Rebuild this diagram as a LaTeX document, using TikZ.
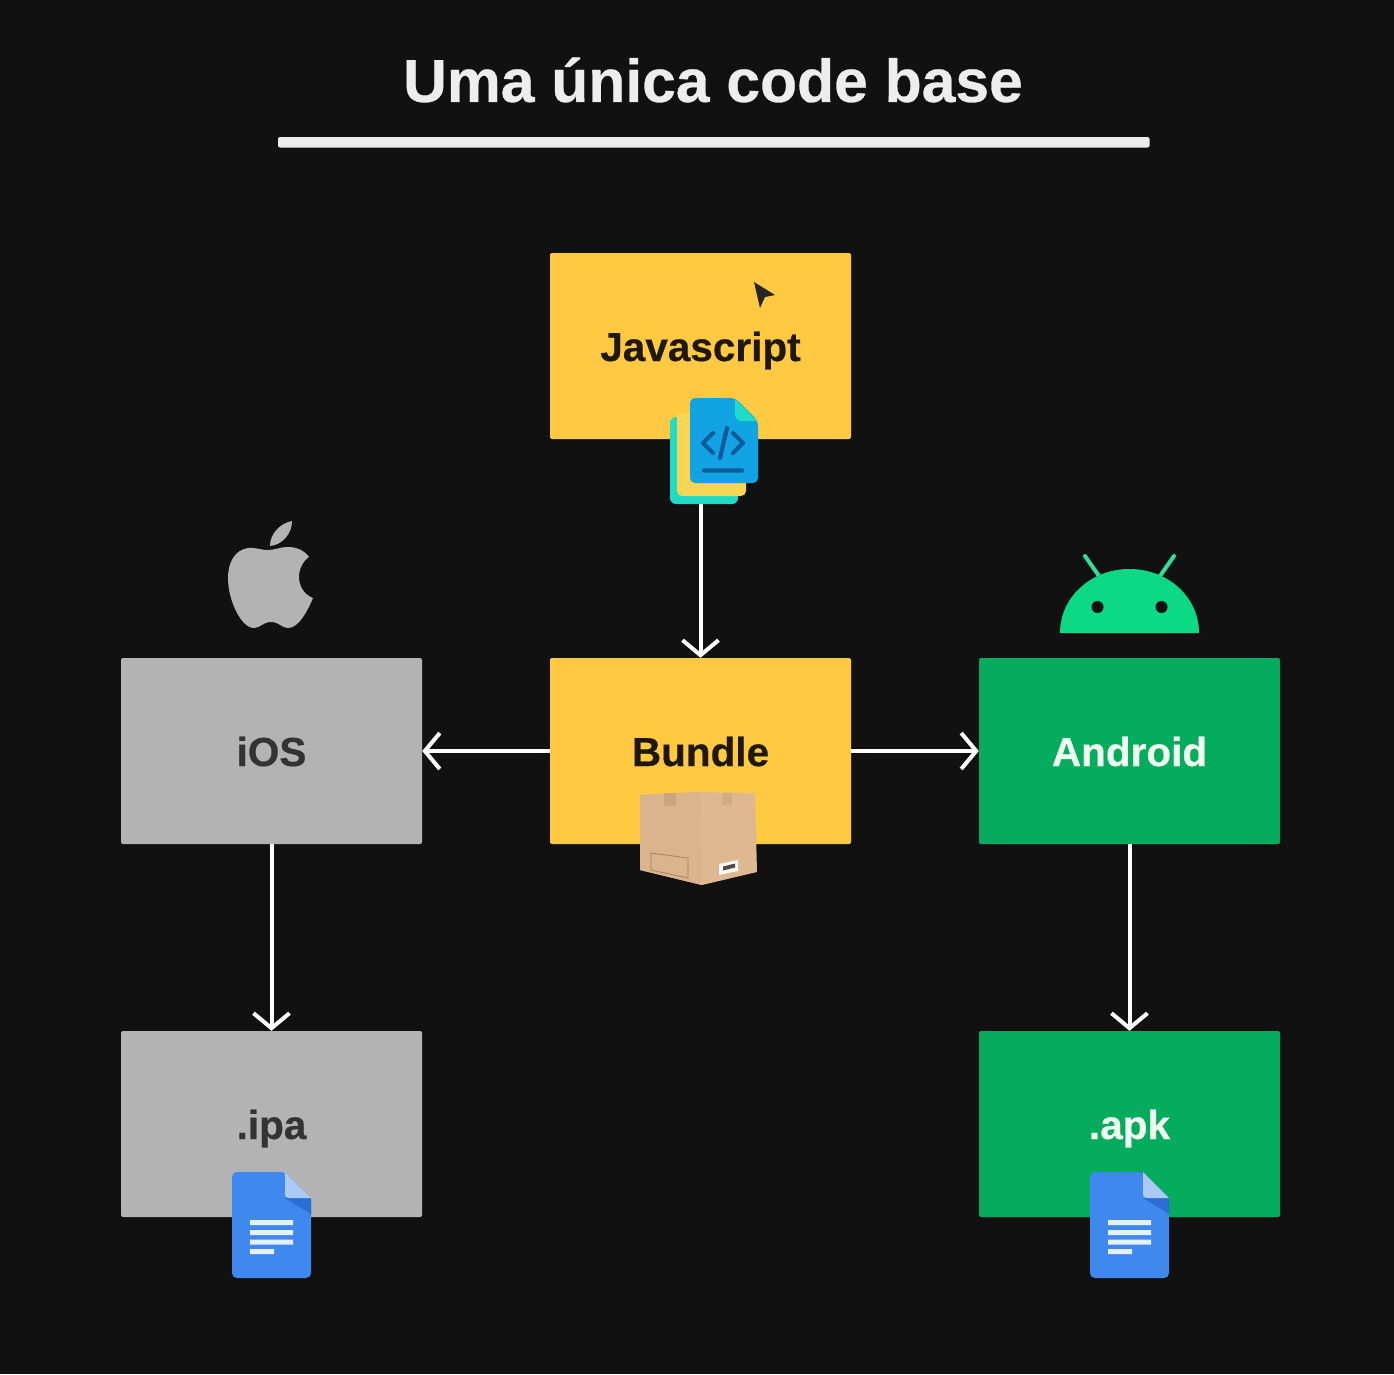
\documentclass[tikz,border=0pt]{standalone}
\usepackage{fontspec}
\setmainfont{Liberation Sans}[BoldFeatures={FakeBold=0.5}]
\usetikzlibrary{arrows.meta}
\definecolor{bgc}{HTML}{121112}
\definecolor{rulec}{HTML}{EDEDED}
\definecolor{yel}{HTML}{FFCA42}
\definecolor{gry}{HTML}{B3B3B3}
\definecolor{grn}{HTML}{06AC5E}
\definecolor{droid}{HTML}{0DD883}
\definecolor{docb}{HTML}{3E88EE}
\definecolor{docl}{HTML}{ABCBF6}
\definecolor{docd}{HTML}{2C6CD6}
\definecolor{docw}{HTML}{E6F1FF}
\definecolor{codeb}{HTML}{11A3E4}
\definecolor{coded}{HTML}{0E5C97}
\definecolor{codec}{HTML}{1FDCC6}
\definecolor{codey}{HTML}{F8D552}
\definecolor{boxl}{HTML}{D9B48C}
\definecolor{boxr}{HTML}{DDB890}
\definecolor{boxt}{HTML}{C9A47C}
\tikzset{
  box/.style={minimum width=301pt,minimum height=186pt,inner sep=0pt,rounded corners=2pt,text height=30pt,text depth=0pt,font=\bfseries\fontsize{40.5}{46}\selectfont},
  yelbox/.style={box,fill=yel,text=yel!12!black},
  grybox/.style={box,fill=gry,text=black!80},
  grnbox/.style={box,fill=grn,text=green!6!white},
  conn/.style={draw=white,line width=4pt,-{Straight Barb[length=15pt,width=36pt,line width=4pt]}},
  docicon/.pic={
    \fill[docb,rounded corners=5pt] (-39,-54) -- (14,-54) -- (40,-28) -- (40,52) -- (-39,52) -- cycle;
    \fill[docd] (14,-28) -- (40,-28) -- (40,-12) -- cycle;
    \fill[docl] (14,-54) -- (40,-28) -- (18,-28) .. controls (15,-28) and (14,-29) .. (14,-32) -- cycle;
    \fill[docw] (-21,-6) rectangle (22,-1) (-21,4) rectangle (22,9) (-21,13.5) rectangle (22,18.5) (-21,23) rectangle (3,28);
  }
}
\begin{document}
\begin{tikzpicture}[x=1pt,y=-1pt]
\useasboundingbox (0,0) rectangle (1394,1374);
\fill[bgc] (0,0) rectangle (1394,1374);
\node[text=rulec,font=\bfseries\fontsize{60.6}{70}\selectfont,inner sep=0pt] (title) at (713,80) {Uma única code base};
\fill[rulec,rounded corners=2pt] (278,137) rectangle (1149.5,147.5);

\node[yelbox] (js) at (700.5,346) {Javascript};
\node[yelbox] (bundle) at (700.5,751) {Bundle};
\node[grybox] (ios) at (271.5,751) {iOS};
\node[grnbox] (android) at (1129.5,751) {Android};
\node[grybox] (ipa) at (271.5,1124) {.ipa};
\node[grnbox] (apk) at (1129.5,1124) {.apk};

\draw[conn] (js.south) -- (bundle.north);
\draw[conn] (bundle.west) -- (ios.east);
\draw[conn] (bundle.east) -- (android.west);
\draw[conn] (ios.south) -- (ipa.north);
\draw[conn] (android.south) -- (apk.north);

% cursor
\fill[black!85] (754,282) -- (775,295) -- (765,297) -- (760,308) -- cycle;

% code files icon
\fill[codec,rounded corners=6pt] (670,417) rectangle (738,504);
\fill[codey,rounded corners=5pt] (677,413) rectangle (746,496);
\fill[codeb,rounded corners=5pt] (690,398) -- (735,398) -- (758,421) -- (758,483) -- (690,483) -- cycle;
\fill[codec] (735,399) -- (757,421) -- (742,421) .. controls (737,421) and (735,418) .. (735,414) -- cycle;
\draw[coded,line width=4.2pt,line cap=round,line join=round]
  (713,433) -- (703,443) -- (713,453)
  (733,433) -- (743,443) -- (733,453)
  (727,428) -- (720,458)
  (704,470.5) -- (742,470.5);

% apple
\fill[gry] (268,550) .. controls (260,550) and (255,547) .. (248,548)
  .. controls (235,550) and (228,562) .. (228,578)
  .. controls (228,600) and (241,628) .. (254,628)
  .. controls (260,628) and (263,622) .. (271,622)
  .. controls (279,622) and (282,628) .. (288,628)
  .. controls (299,628) and (308,610) .. (313,598)
  .. controls (303,594) and (299,585) .. (299,577)
  .. controls (299,569) and (303,561) .. (309,557)
  .. controls (304,550) and (296,547) .. (288,547)
  .. controls (280,547) and (275,550) .. (268,550) -- cycle;
\fill[gry] (270,546) .. controls (270,533) and (281,523) .. (292,521)
  .. controls (292,534) and (282,545) .. (270,546) -- cycle;

% android
\draw[droid!85!white,line width=4pt,line cap=round] (1099,576) -- (1085,556) (1160,576) -- (1174,556);
\fill[droid] (1060,633) .. controls (1060,597) and (1091,569) .. (1129.5,569)
  .. controls (1168,569) and (1199,597) .. (1199,633) -- cycle;
\fill[bgc] (1097.5,607) circle (6) (1161.5,607) circle (6);

% parcel
\fill[boxr] (640,795) -- (700,792) -- (755,793) -- (757,872) -- (702,885) -- (640,870) -- cycle;
\fill[boxl] (640,795) -- (700,792) -- (702,885) -- (640,870) -- cycle;
\fill[boxt] (664,793) rectangle (676,806);
\fill[boxt!60!boxr] (722,793) rectangle (732,805);
\draw[boxt!80!black,line width=.8pt] (651,853) -- (688,858) -- (688,878) -- (651,870) -- cycle;
\fill[white!92!boxt] (719,864) -- (738,860) -- (738,871) -- (719,875) -- cycle;
\fill[black!70] (723,866.5) -- (735,863.5) -- (735,867.5) -- (723,870.5) -- cycle;

% document icons
\pic at (271,1226) {docicon};
\pic at (1129,1226) {docicon};
\end{tikzpicture}
\end{document}
